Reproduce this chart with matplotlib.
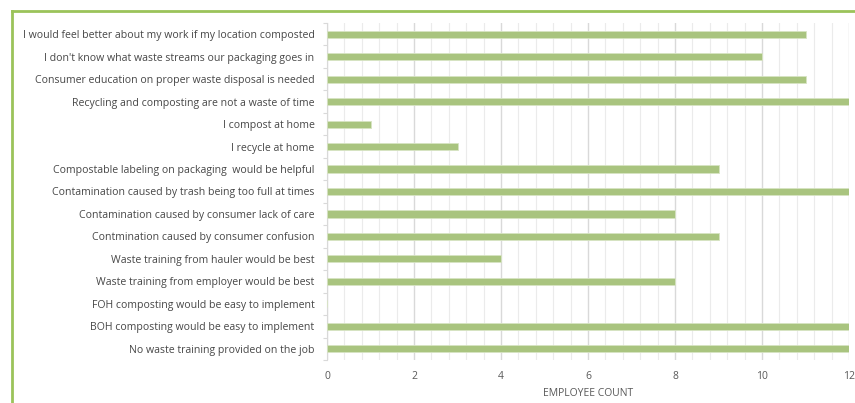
import matplotlib
matplotlib.use("Agg")
import matplotlib.pyplot as plt
from matplotlib.ticker import MultipleLocator, FixedLocator
from matplotlib.lines import Line2D
import numpy as np

categories = [
    "I would feel better about my work if my location composted",
    "I don't know what waste streams our packaging goes in",
    "Consumer education on proper waste disposal is needed",
    "Recycling and composting are not a waste of time",
    "I compost at home",
    "I recycle at home",
    "Compostable labeling on packaging  would be helpful",
    "Contamination caused by trash being too full at times",
    "Contamination caused by consumer lack of care",
    "Contmination caused by consumer confusion",
    "Waste training from hauler would be best",
    "Waste training from employer would be best",
    "FOH composting would be easy to implement",
    "BOH composting would be easy to implement",
    "No waste training provided on the job",
]
counts = [11, 10, 11, 12, 1, 3, 9, 12, 8, 9, 4, 8, 0, 12, 12]
x_ticks = [0, 2, 4, 6, 8, 10, 12]
x_label = "EMPLOYEE COUNT"

plt.rcParams['font.family'] = ['Open Sans', 'DejaVu Sans']

fig = plt.figure(figsize=(8.55, 4.03), dpi=100)
ax = fig.add_axes([327/855, 1-360/403, (849-327)/855, (360-23)/403])

y = np.arange(len(categories))
ax.barh(y, counts, height=0.32, color="#A9C47F", edgecolor="#D7E4C3", linewidth=0.6, zorder=3)
ax.set_ylim(len(categories) - 0.5, -0.5)
ax.set_xlim(0, 12)

ax.set_yticks(y)
ax.set_yticklabels(categories, fontsize=7.55, color="#474747")
ax.yaxis.set_minor_locator(FixedLocator(np.arange(-0.5, len(categories), 1.0)))
ax.tick_params(axis='y', which='major', length=0, pad=9)
ax.tick_params(axis='y', which='minor', length=3, color="#D9D9D9", width=0.8)

ax.xaxis.set_major_locator(FixedLocator(x_ticks))
ax.xaxis.set_minor_locator(MultipleLocator(0.4))
ax.tick_params(axis='x', which='both', length=0, labelsize=7.5, labelcolor="#595959", pad=8)
ax.grid(axis='x', which='major', color="#D9D9D9", linewidth=1.0, zorder=0)
ax.grid(axis='x', which='minor', color="#EBEBEB", linewidth=0.8, zorder=0)

ax.set_xlabel(x_label, fontsize=7.5, color="#595959", labelpad=4)

for s in ["top", "right", "bottom"]:
    ax.spines[s].set_visible(False)
ax.spines["left"].set_color("#D9D9D9")
ax.spines["left"].set_linewidth(0.8)

# green outer border (left and top)
fig.add_artist(Line2D([11.5/855, 11.5/855], [0, 1-11/403], transform=fig.transFigure,
                      color="#9BC35A", linewidth=2.0))
fig.add_artist(Line2D([11.5/855, 1], [1-11/403, 1-11/403], transform=fig.transFigure,
                      color="#9BC35A", linewidth=2.0))

fig.savefig("out.png", dpi=100)
